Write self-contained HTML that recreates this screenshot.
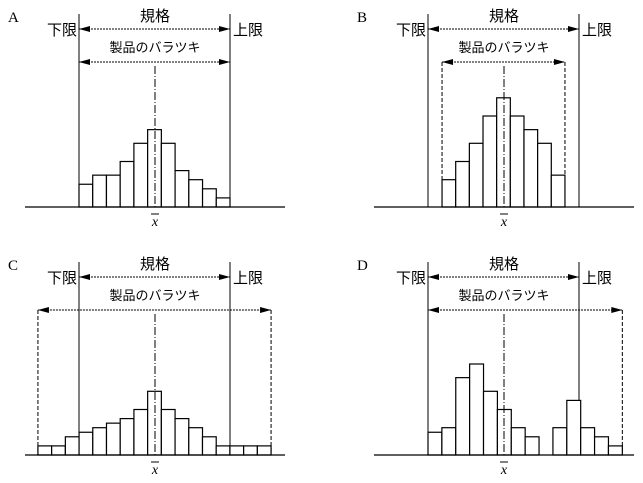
<!DOCTYPE html>
<html><head><meta charset="utf-8"><style>
html,body{margin:0;padding:0;background:#fff;}
svg{display:block;font-family:"Liberation Serif","Noto Serif CJK SC","Noto Sans CJK JP",serif;}
</style></head><body>
<svg id="c" width="643" height="483" viewBox="0 0 643 483"></svg>
<script>
const panelLabels = ["A","B","C","D"];
const countsA = [5,7,7,10,14,17,14,8,6,4,2];
const countsB = [6,10,14,20,24,20,17,14,7];
const countsC = [2,2,4,5,6,7,8,10,14,10,8,6,4,2,2,2,2];
const countsD = [5,6,17,20,14,10,6,4,0,6,12,6,4,2];
const allCounts = [countsA, countsB, countsC, countsD];
// spread start/end (relative to spec: lower=0, upper=1)
const spreadStart = [0, 0.093, -0.272, 0];
const spreadEnd = [1, 0.907, 1.272, 1.287];

const NS="http://www.w3.org/2000/svg";
const svg=document.getElementById('c');
function el(t,a,p){const e=document.createElementNS(NS,t);for(const k in a)e.setAttribute(k,a[k]);(p||svg).appendChild(e);return e;}
const unit=4.55;
const panels=[{ox:0,oy:0},{ox:349,oy:0},{ox:0,oy:248},{ox:349,oy:248}];
const LS=79, US=230, base=207;
function sx(v){return LS+v*(US-LS);}
function yv(c){return base-c*unit;}
panels.forEach((p,i)=>{
  const g=el('g',{transform:`translate(${p.ox},${p.oy})`});
  
  
  const t=el('text',{x:8,y:22,'font-size':15},g);t.textContent=panelLabels[i];
  
  // spec limits
  const ay1=29, ay2=62;
  el('line',{x1:LS,y1:14,x2:LS,y2:base,stroke:'#000','stroke-width':1},g);
  el('line',{x1:US,y1:14,x2:US,y2:base,stroke:'#000','stroke-width':1},g);
  const s0=sx(spreadStart[i]), s1=sx(spreadEnd[i]);
  if(spreadStart[i]!==0) el('line',{x1:s0,y1:ay2,x2:s0,y2:base,stroke:'#000','stroke-dasharray':'4,2'},g);
  if(spreadEnd[i]!==1) el('line',{x1:s1,y1:ay2,x2:s1,y2:base,stroke:'#000','stroke-dasharray':'4,2'},g);
  // arrows
  function arrow(x1,x2,y,nm){
    const a=el('g',{},g);
    el('line',{x1:x1,y1:y,x2:x2,y2:y,stroke:'#000','stroke-dasharray':'2,1'},a);
    el('polygon',{points:`${x1},${y} ${x1+11},${y-3} ${x1+11},${y+3}`,fill:'#000'},a);
    el('polygon',{points:`${x2},${y} ${x2-11},${y-3} ${x2-11},${y+3}`,fill:'#000'},a);
  }
  arrow(LS,US,ay1,'spec-arrow');
  arrow(s0,s1,ay2,'spread-arrow');
  const f="'Liberation Sans','Noto Sans CJK JP',sans-serif";
  let tx=el('text',{x:155,y:21,'font-size':15,'text-anchor':'middle','font-family':f},g);tx.textContent='規格';
  
  tx=el('text',{x:155,y:52,'font-size':13,'text-anchor':'middle','font-family':f},g);tx.textContent='製品のバラツキ';
  
  tx=el('text',{x:77,y:35,'font-size':15,'text-anchor':'end','font-family':f},g);tx.textContent='下限';
  
  tx=el('text',{x:233,y:35,'font-size':15,'font-family':f},g);tx.textContent='上限';
  
  // bars
  const cs=allCounts[i];
  const bw=(s1-s0)/cs.length;
  cs.forEach((c,j)=>{
    if(c<=0)return;
    const r=el('rect',{x:s0+j*bw,y:yv(c),width:bw,height:c*unit,fill:'#fff',stroke:'#000','stroke-width':1.2},g);
    
    
  });
  // axis
  el('line',{x1:25,y1:base,x2:285,y2:base,stroke:'#000','stroke-width':1.2},g);
  // mean line
  const ml=el('line',{x1:155,y1:66,x2:155,y2:base,stroke:'#000','stroke-dasharray':'8,2,1,2'},g);
  
  tx=el('text',{x:155,y:226,'font-size':14,'text-anchor':'middle','font-style':'italic'},g);tx.textContent='x';
  
  el('line',{x1:151,y1:214,x2:159,y2:214,stroke:'#000'},g);
});
</script>
</body></html>
